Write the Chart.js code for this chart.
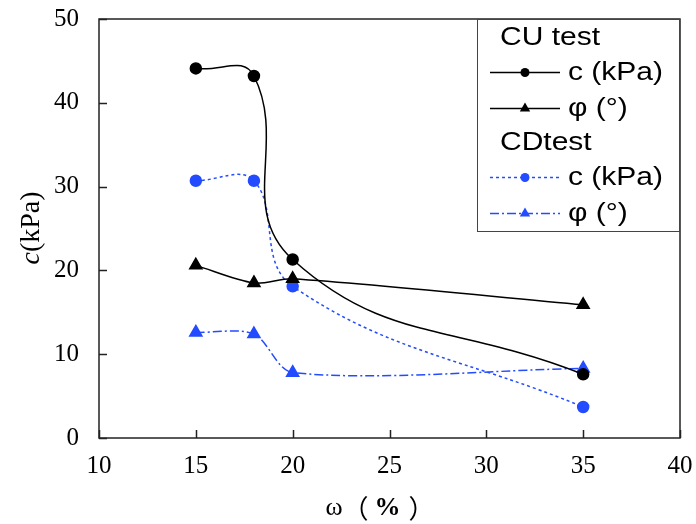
<!DOCTYPE html>
<html>
<head>
<meta charset="utf-8">
<script src="https://cdn.jsdelivr.net/npm/chart.js@4.4.1/dist/chart.umd.min.js"></script>
<style>
  html, body { margin: 0; padding: 0; background: #fff; }
  #wrap { width: 696px; height: 524px; position: relative; }
</style>
</head>
<body>
<div id="wrap"><canvas id="lineChart"></canvas></div>
<script>
// water content ω (%)
const moisture = [15, 18, 20, 35];
// CU test
const cuCohesion = [44.1, 43.2, 21.3, 7.6];
const cuFriction = [20.6, 18.5, 19.0, 15.9];
// CD test
const cdCohesion = [30.7, 30.7, 18.1, 3.7];
const cdFriction = [12.6, 12.4, 7.8, 8.3];

const xTicks = [10, 15, 20, 25, 30, 35, 40];
const yTicks = [0, 10, 20, 30, 40, 50];

const BLUE = 'rgb(35,75,255)';
const serif = '"Liberation Serif", "Times New Roman", serif';
const sans = '"Liberation Sans", Arial, sans-serif';
const cjk = '"Noto Sans CJK SC", sans-serif';

function pts(ys) {
    return moisture.map((x, i) => ({ x: x, y: ys[i] }));
}

const data = {
    datasets: [
        {
            label: 'CU c (kPa)', data: pts(cuCohesion),
            borderColor: '#000', backgroundColor: '#000',
            borderWidth: 1.5, pointStyle: 'circle', pointRadius: 5.5, tension: 0.45
        },
        {
            label: 'CU φ (°)', data: pts(cuFriction),
            borderColor: '#000', backgroundColor: '#000',
            borderWidth: 1.5, pointStyle: 'triangle', pointRadius: 7, tension: 0.3
        },
        {
            label: 'CD c (kPa)', data: pts(cdCohesion),
            borderColor: BLUE, backgroundColor: BLUE, borderDash: [3, 3],
            borderWidth: 1.5, pointStyle: 'circle', pointRadius: 5.5, tension: 0.4
        },
        {
            label: 'CD φ (°)', data: pts(cdFriction),
            borderColor: BLUE, backgroundColor: BLUE, borderDash: [9, 3, 2, 3],
            borderWidth: 1.5, pointStyle: 'triangle', pointRadius: 7, tension: 0.3
        }
    ]
};

// draws a run of [text, font, gapAfter] pieces centred on cx
function pieces(c, parts, cx, cy) {
    let total = 0;
    parts.forEach(p => { c.font = p[1]; total += c.measureText(p[0]).width + (p[2] || 0); });
    let x = cx - total / 2;
    c.textAlign = 'left';
    parts.forEach(p => {
        c.font = p[1];
        c.fillText(p[0], x, cy);
        x += c.measureText(p[0]).width + (p[2] || 0);
    });
}

// frame, inward ticks, axis titles and the grouped legend box
const decor = {
    id: 'decor',
    afterDatasetsDraw(chart) {
        const c = chart.ctx, a = chart.chartArea;
        const xs = chart.scales.x, ys = chart.scales.y;
        c.save();
        c.strokeStyle = '#222';
        c.lineWidth = 1.5;
        c.strokeRect(a.left, a.top, a.right - a.left, a.bottom - a.top);
        c.beginPath();
        xTicks.forEach(v => {
            const px = Math.round(xs.getPixelForValue(v)) + 0.5;
            c.moveTo(px, a.bottom); c.lineTo(px, a.bottom - 8);
        });
        yTicks.forEach(v => {
            const py = Math.round(ys.getPixelForValue(v)) + 0.5;
            c.moveTo(a.left, py); c.lineTo(a.left + 8, py);
        });
        c.stroke();

        // axis titles
        c.fillStyle = '#000';
        c.textBaseline = 'middle';
        pieces(c, [
            ['ω', '26px ' + serif, 0],
            ['（', '26px ' + cjk, 6],
            ['%', 'bold 26px ' + serif, 8],
            ['）', '26px ' + cjk, 0]
        ], 380, 508);
        c.save();
        c.translate(32, 228);
        c.rotate(-Math.PI / 2);
        pieces(c, [
            ['c', 'italic 28px ' + serif],
            ['(kPa)', '28px ' + serif]
        ], 0, 0);
        c.restore();

        // legend
        const lx = 477, ly = a.top, lw = a.right - 477, lh = 232 - a.top;
        c.fillStyle = '#fff';
        c.fillRect(lx, ly, lw, lh);
        c.lineWidth = 1;
        c.strokeStyle = '#444';
        c.strokeRect(lx + 0.5, ly + 0.5, lw - 1, lh - 1);
        c.fillStyle = '#000';
        c.font = '25px ' + sans;
        c.textAlign = 'left';
        const stretched = (txt, x, y) => {
            c.save();
            c.translate(x, y);
            c.scale(1.2, 1);
            c.fillText(txt, 0, 0);
            c.restore();
        };
        stretched('CU test', 500, 38);
        stretched('CDtest', 500, 143);
        const rows = [
            { ds: 0, y: 72, text: 'c (kPa)' },
            { ds: 1, y: 108, text: 'φ (°)' },
            { ds: 2, y: 177, text: 'c (kPa)' },
            { ds: 3, y: 213, text: 'φ (°)' }
        ];
        rows.forEach(r => {
            const d = chart.data.datasets[r.ds];
            c.strokeStyle = d.borderColor;
            c.lineWidth = 1.5;
            c.setLineDash(d.borderDash || []);
            c.beginPath();
            c.moveTo(490, r.y + 0.5); c.lineTo(560, r.y + 0.5);
            c.stroke();
            c.setLineDash([]);
            c.fillStyle = d.backgroundColor;
            Chart.helpers.drawPoint(c, {
                pointStyle: d.pointStyle, radius: d.pointRadius - 1, borderWidth: 0, rotation: 0
            }, 525, r.y + 0.5);
            c.fillStyle = '#000';
            stretched(r.text, 568, r.y + 1);
        });
        c.restore();
    }
};

const options = {
    responsive: true,
    maintainAspectRatio: false,
    animation: false,
    showLine: true,
    elements: { point: { borderWidth: 0 } },
    layout: { padding: { left: 0, top: 19, right: 16, bottom: 0 } },
    scales: {
        x: {
            type: 'linear', min: 10, max: 40,
            afterBuildTicks: s => { s.ticks = xTicks.map(v => ({ value: v })); },
            afterFit: s => { s.height = 86; s.paddingLeft = 0; s.paddingRight = 0; },
            grid: { display: false },
            border: { display: false },
            ticks: { color: '#000', padding: 5, font: { family: serif, size: 25 } }
        },
        y: {
            min: 0, max: 50,
            afterBuildTicks: s => { s.ticks = yTicks.map(v => ({ value: v })); },
            afterFit: s => { s.width = 99; s.paddingTop = 0; s.paddingBottom = 0; },
            grid: { display: false },
            border: { display: false },
            ticks: { color: '#000', padding: 12, font: { family: serif, size: 25 } }
        }
    },
    plugins: {
        legend: { display: false },
        tooltip: { enabled: false }
    }
};

new Chart(document.getElementById('lineChart'), {
    type: 'scatter',
    data: data,
    options: options,
    plugins: [decor]
});
</script>
</body>
</html>
